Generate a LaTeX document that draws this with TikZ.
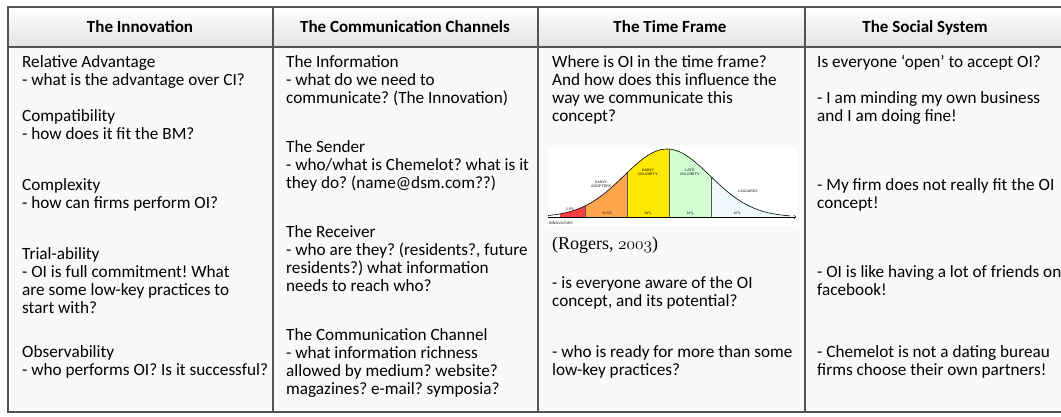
\documentclass[tikz,border=0pt]{standalone}
\usepackage{fontspec}
\setmainfont{Carlito}
\newfontfamily\refont{Liberation Serif}
\usetikzlibrary{arrows}
\frenchspacing

\tikzset{
  cell/.style={anchor=north west, align=left, inner sep=0pt, font=\fontsize{17.2}{18}\selectfont},
  head/.style={anchor=base, inner sep=0pt, font=\fontsize{17}{18}\selectfont\bfseries},
  hand/.style={align=center, inner sep=0pt, font=\sffamily\fontsize{3.6}{3.9}\selectfont},
  rule/.style={draw=gray!65!black, line width=1.3pt}
}

\begin{document}
\begin{tikzpicture}[x=1pt, y=-1pt]
\useasboundingbox[fill=white] (0,0) rectangle (1061,417);
\fill[top color=white, bottom color=gray!22] (8,7) rectangle (1070,47);
\fill[gray!5] (8,47) rectangle (1070,412);
\draw[rule] (8,7) rectangle (1070,412);
\draw[rule] (8,47) -- (1070,47);
\foreach \x in {273,538,805} \draw[rule] (\x,7) -- (\x,412);

\node[head] (h1) at (140,33) {The Innovation};
\node[head] (h2) at (405,33) {The Communication Channels};
\node[head] (h3) at (670,33) {The Time Frame};
\node[head] (h4) at (925,33) {The Social System};

\node[cell] (innov) at (22,55) {Relative Advantage\\
- what is the advantage over CI?\\[18pt]
Compatibility\\
- how does it fit the BM?\\[33pt]
Complexity\\
- how can firms perform OI?\\[33pt]
Trial-ability\\
- OI is full commitment! What\\
are some low-key practices to\\
start with?\\[26pt]
Observability\\
- who performs OI? Is it successful?};

\node[cell] (comm) at (286,55) {The Information\\
- what do we need to\\
communicate? (The Innovation)\\[31pt]
The Sender\\
- who/what is Chemelot? what is it\\
they do? (name@dsm.com??)\\[31pt]
The Receiver\\
- who are they? (residents?, future\\
residents?) what information\\
needs to reach who?\\[31pt]
The Communication Channel\\
- what information richness\\
allowed by medium? website?\\
magazines? e-mail? symposia?};

\node[cell] (time) at (552,55) {Where is OI in the time frame?\\
And how does this influence the\\
way we communicate this\\
concept?};
\node[cell, anchor=base west] (rogers) at (552,249) {\refont\fontsize{18}{18}\selectfont(Rogers, {\usefont{OML}{cmm}{m}{it}2003})};
\node[cell] (aware) at (552,276) {- is everyone aware of the OI\\
concept, and its potential?\\[33pt]
- who is ready for more than some\\
low-key practices?};

\node[cell] (social) at (817,55) {Is everyone ‘open’ to accept OI?\\[18pt]
- I am minding my own business\\
and I am doing fine!\\[51pt]
- My firm does not really fit the OI\\
concept!\\[51pt]
- OI is like having a lot of friends on\\
facebook!\\[44pt]
- Chemelot is not a dating bureau\\
firms choose their own partners!};

\fill[white] (548,147) rectangle (797,226);
\foreach \a/\b/\c in {560/585/red!75, 585/627/orange!70, 627/669/yellow!90!orange, 669/711/green!18, 711/790/cyan!6}
  \fill[\c] (\a,217) -- plot[domain=\a:\b, samples=20] (\x, {217-68*exp(-((\x-667)/43)*((\x-667)/43)/2)}) -- (\b,217) -- cycle;
\foreach \x in {585,627,669,711} \draw[gray!70!black, line width=0.3pt] (\x,217) -- (\x, {217-68*exp(-((\x-667)/43)*((\x-667)/43)/2)});
\draw[line width=0.6pt] plot[domain=548:790, samples=80] (\x, {217-68*exp(-((\x-667)/43)*((\x-667)/43)/2)});
\coordinate (ax0) at (548,217);
\coordinate (ax1) at (796,217);
\draw[line width=0.6pt, ->] (ax0) -- (ax1);

\node[hand] (inn) at (561,223) {INNOVATORS};
\node[hand] (p1) at (570,209) {2.5\%};
\node[hand] (ea) at (601,184) {EARLY\\ADOPTERS};
\node[hand] (p2) at (607,213) {13.5\%};
\node[hand] (em) at (648,172) {EARLY\\MAJORITY};
\node[hand] (p3) at (648,213) {34\%};
\node[hand] (lm) at (690,172) {LATE\\MAJORITY};
\node[hand] (p4) at (690,213) {34\%};
\node[hand] (lag) at (748,191) {LAGGARDS};
\node[hand] (p5) at (737,213) {16\%};
\end{tikzpicture}
\end{document}
